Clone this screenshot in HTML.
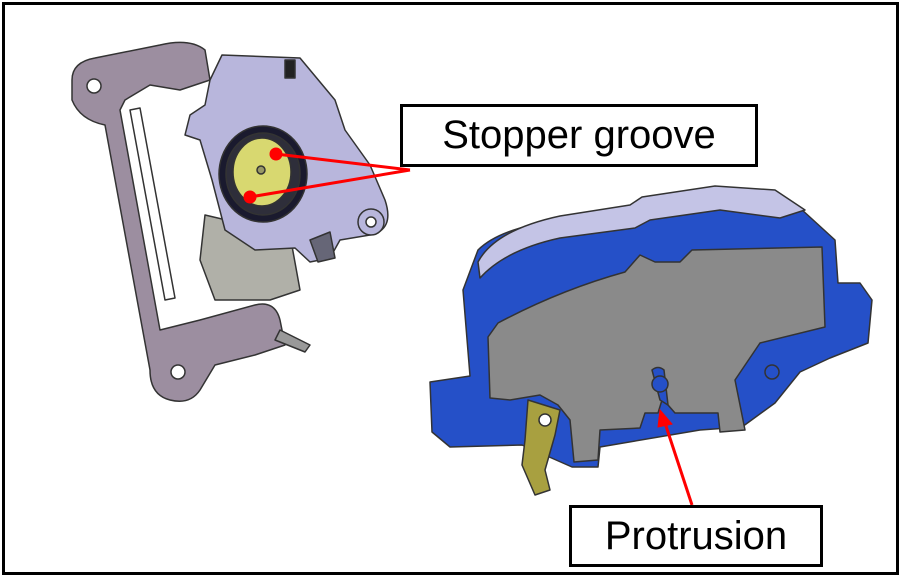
<!DOCTYPE html>
<html><head><style>
body{margin:0;background:#fff;width:901px;height:577px;overflow:hidden}
.lbl{position:absolute;background:#fff;border:3px solid #000;font-family:"Liberation Sans",sans-serif;font-size:40px;color:#000;box-sizing:border-box;display:flex;align-items:center;justify-content:center}
</style></head><body>
<div style="position:absolute;left:2px;top:2px;width:897px;height:573px;border:3px solid #000;box-sizing:border-box"></div>
<svg width="901" height="577" style="position:absolute;left:0;top:0">
<g stroke="#333" stroke-width="1.5" stroke-linejoin="round">
 <path d="M72,80 Q72,62 95,58 L160,45 Q190,38 205,50 L210,80 L180,90 L150,85 L125,100 L120,110 L160,330 L200,320 L255,305 Q275,300 280,320 L285,345 L255,355 L215,365 L200,390 Q190,405 170,400 Q150,395 150,370 L105,125 Q80,120 72,100 Z" fill="#9c8ea0"/>
 <circle cx="94" cy="86" r="7" fill="#fff"/>
 <circle cx="178" cy="372" r="7" fill="#fff"/>
 <path d="M130,110 L165,300 L175,298 L140,108 Z" fill="#fff"/>
 <path d="M205,215 L290,235 L300,290 L270,300 L215,300 L200,260 Z" fill="#b0b0a8"/>
 <path d="M280,330 L310,345 L305,352 L275,340 Z" fill="#999"/>
 <path d="M222,55 L300,58 L335,100 L345,130 L370,165 L385,200 Q395,230 370,235 L340,240 L330,258 L310,262 L295,248 L255,250 L225,230 L212,180 L200,140 L185,135 L190,115 L205,105 L210,80 Z" fill="#b8b6dc"/>
 <rect x="285" y="60" width="10" height="18" fill="#222"/>
 <path d="M310,240 L330,232 L335,258 L318,262 Z" fill="#667"/>
 <circle cx="371" cy="222" r="13" fill="#b8b6dc"/><circle cx="371" cy="222" r="5" fill="#fff"/>
 <ellipse cx="263" cy="174" rx="44" ry="48" fill="#1a1a2e"/>
 <ellipse cx="263" cy="174" rx="37" ry="41" fill="#2e2e3a"/>
 <ellipse cx="262" cy="172" rx="29" ry="34" fill="#d8d870"/>
 <circle cx="261" cy="170" r="4" fill="#996"/>
 <path d="M478,250 Q500,228 560,220 L630,210 L642,203 L715,188 L775,192 L800,208 L835,240 L838,283 L860,283 L872,300 L868,343 L830,358 L800,372 L775,403 L742,427 L700,430 L600,447 L598,467 L572,467 L522,445 L450,447 L432,432 L430,382 L470,376 L463,290 Z" fill="#2550c8"/>
 <path d="M478,262 Q495,230 560,216 L630,205 L642,197 L715,186 L775,190 L805,210 L780,218 L720,210 L650,220 L635,228 L560,238 Q505,250 480,278 Z" fill="#c4c4e6"/>
 <path d="M488,337 L498,323 Q560,290 625,272 L640,255 L655,262 L680,262 L692,250 L822,247 L825,327 L760,343 L735,380 L745,430 L720,432 L718,413 L675,413 L668,405 L662,400 L658,413 L645,413 L640,428 L600,430 L598,460 L574,462 L570,420 L558,405 L540,395 L510,400 L490,398 Z" fill="#8a8a8a"/>
 <path d="M660,400 L652,370 Q658,365 664,370 L668,405 Z" fill="#2550c8"/>
 <circle cx="660" cy="384" r="8" fill="#2550c8"/>
 <circle cx="772" cy="372" r="7" fill="#2550c8"/>
 <path d="M528,400 L560,410 L555,435 L545,470 L550,490 L535,495 L522,465 L525,440 Z" fill="#a8a040"/>
 <circle cx="545" cy="420" r="6" fill="#fff"/>
</g>
<g stroke="#f00" stroke-width="3" fill="#f00">
 <line x1="410" y1="170" x2="276" y2="154"/>
 <line x1="410" y1="170" x2="250" y2="197"/>
 <circle cx="276" cy="154" r="5"/>
 <circle cx="250" cy="197" r="5"/>
 <line x1="692" y1="505" x2="664" y2="420"/>
 <path d="M660,410 L672,424 L658,427 Z" stroke-width="1"/>
</g>
</svg>
<div class="lbl" style="left:400px;top:104px;width:358px;height:63px">Stopper groove</div>
<div class="lbl" style="left:569px;top:505px;width:254px;height:62px">Protrusion</div>
</body></html>
